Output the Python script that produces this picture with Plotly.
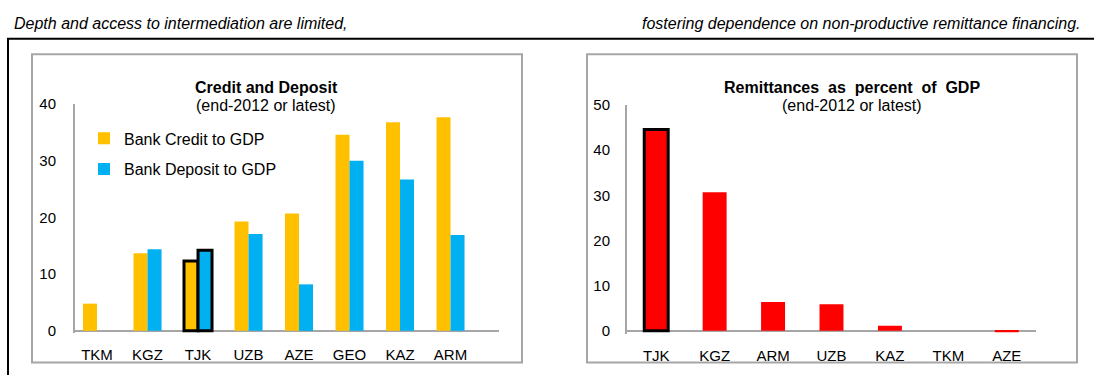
import plotly.graph_objects as go

# Panel 1: banking depth (percent of GDP)
credit_countries = ["TKM", "KGZ", "TJK", "UZB", "AZE", "GEO", "KAZ", "ARM"]
bank_credit = [4.8, 13.7, 12.3, 19.3, 20.7, 34.6, 36.8, 37.7]
bank_deposit = [None, 14.4, 14.2, 17.1, 8.2, 30.0, 26.7, 16.9]

# Panel 2: remittances (percent of GDP)
remit_countries = ["TJK", "KGZ", "ARM", "UZB", "KAZ", "TKM", "AZE"]
remittances = [44.6, 30.7, 6.4, 5.9, 1.1, None, -0.3]

highlight = "TJK"

W, H = 1094, 381
FONT = "Liberation Sans, Arial, sans-serif"
GRAY = "#A6A6A6"


def px_x(v):
    return v / W


def px_y(v):
    return (H - v) / H


def outline(countries):
    return [3 if c == highlight else 0 for c in countries]


fig = go.Figure()

fig.add_trace(go.Bar(
    x=credit_countries, y=bank_credit, name="Bank Credit to GDP",
    marker=dict(color="#FFC000", line=dict(color="black", width=outline(credit_countries))),
    xaxis="x", yaxis="y", legendgroup="a",
))
fig.add_trace(go.Bar(
    x=credit_countries, y=bank_deposit, name="Bank Deposit to GDP",
    marker=dict(color="#00B0F0", line=dict(color="black", width=outline(credit_countries))),
    xaxis="x", yaxis="y", legendgroup="b",
))
fig.add_trace(go.Bar(
    x=remit_countries, y=remittances, name="Remittances",
    marker=dict(color="#FF0000", line=dict(color="black", width=outline(remit_countries))),
    xaxis="x2", yaxis="y2", showlegend=False, offsetgroup="r", width=0.41,
))

tick_font = dict(family=FONT, size=15, color="black")

fig.update_layout(
    width=W, height=H,
    margin=dict(l=0, r=0, t=0, b=0),
    paper_bgcolor="white", plot_bgcolor="white",
    barmode="group",
    bargap=0.445, bargroupgap=0,
    font=dict(family=FONT, size=16, color="black"),
    showlegend=True,
    legend=dict(
        x=px_x(84), y=px_y(117), xanchor="left", yanchor="top",
        bgcolor="rgba(0,0,0,0)", borderwidth=0,
        font=dict(family=FONT, size=16, color="black"),
        traceorder="grouped", tracegroupgap=7,
    ),
    xaxis=dict(
        domain=[px_x(75), px_x(499)], range=[-0.436, 7.96],
        type="category", showline=False, showgrid=False, zeroline=False,
        ticks="", tickfont=tick_font, ticklabelstandoff=11, anchor="y",
    ),
    yaxis=dict(
        domain=[px_y(337.4), px_y(99)], range=[-0.4, 40],
        tickvals=[0, 10, 20, 30, 40], showgrid=False,
        showline=True, linecolor=GRAY, linewidth=2,
        zeroline=True, zerolinecolor=GRAY, zerolinewidth=2,
        ticks="", tickfont=tick_font, ticklabelstandoff=14, anchor="x",
    ),
    xaxis2=dict(
        domain=[px_x(627), px_x(1036)], range=[-0.5, 6.5],
        type="category", showline=False, showgrid=False, zeroline=False,
        ticks="", tickfont=tick_font, ticklabelstandoff=11, anchor="y2",
    ),
    yaxis2=dict(
        domain=[px_y(337.8), px_y(100)], range=[-0.6, 50],
        tickvals=[0, 10, 20, 30, 40, 50], showgrid=False,
        showline=True, linecolor=GRAY, linewidth=2,
        zeroline=True, zerolinecolor=GRAY, zerolinewidth=2,
        ticks="", tickfont=tick_font, ticklabelstandoff=12, anchor="x2",
    ),
)

shapes = [
    # outer frame: top rule and left rule
    dict(type="line", xref="paper", yref="paper", x0=px_x(7), x1=1.0,
         y0=px_y(31), y1=px_y(31), line=dict(color="black", width=2)),
    dict(type="line", xref="paper", yref="paper", x0=px_x(8), x1=px_x(8),
         y0=0, y1=px_y(31), line=dict(color="black", width=2)),
    # panel boxes
    dict(type="rect", xref="paper", yref="paper", x0=px_x(32), x1=px_x(522),
         y0=px_y(368), y1=px_y(47), line=dict(color=GRAY, width=2), layer="below"),
    dict(type="rect", xref="paper", yref="paper", x0=px_x(587), x1=px_x(1077),
         y0=px_y(368), y1=px_y(47), line=dict(color=GRAY, width=2), layer="below"),
]
fig.update_layout(shapes=shapes)

annotations = [
    dict(text="<i>Depth and access to intermediation are limited,</i>",
         x=px_x(12), y=px_y(15), xanchor="left", yanchor="middle", font=dict(size=16)),
    dict(text="<i>fostering dependence on non-productive remittance financing.</i>",
         x=px_x(1083), y=px_y(15), xanchor="right", yanchor="middle", font=dict(size=16)),
    dict(text="<b>Credit and Deposit</b>", x=px_x(266), y=px_y(82),
         xanchor="center", yanchor="middle", font=dict(size=16)),
    dict(text="(end-2012 or latest)", x=px_x(266), y=px_y(100),
         xanchor="center", yanchor="middle", font=dict(size=16)),
    dict(text="<b>Remittances  as  percent  of  GDP</b>", x=px_x(852), y=px_y(82),
         xanchor="center", yanchor="middle", font=dict(size=16)),
    dict(text="(end-2012 or latest)", x=px_x(852), y=px_y(100),
         xanchor="center", yanchor="middle", font=dict(size=16)),
]
for a in annotations:
    a.update(xref="paper", yref="paper", showarrow=False)
fig.update_layout(annotations=annotations)

fig.write_html("out.html")
